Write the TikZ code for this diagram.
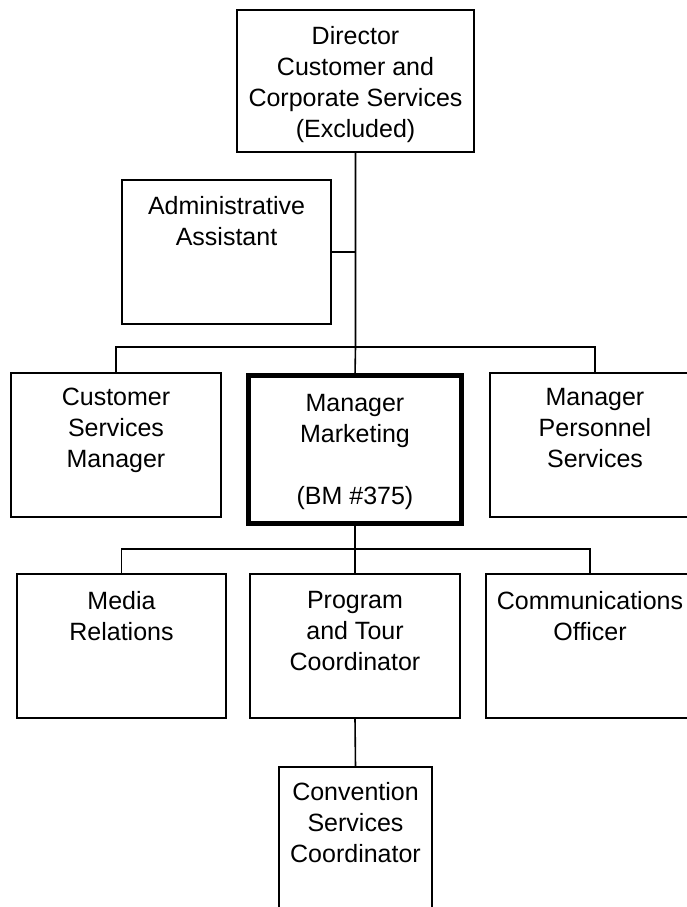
\documentclass[tikz,border=0pt]{standalone}
\usepackage{fontspec}
\setmainfont{Liberation Sans}
\tikzset{
  post/.style = {draw, line width=1.6pt, inner sep=0pt, outer sep=0pt,
    font=\fontsize{25}{31}\selectfont},
  head/.style = {post, line width=5.5pt},
  link/.style = {line width=1.6pt}
}
% box of fixed size, text at the top
\newcommand{\postbox}[4][15]{\parbox[t][#3pt][t]{#2pt}{\centering\vspace*{#1pt}#4}}

\begin{document}
\begin{tikzpicture}[x=1pt,y=-1pt]
  \useasboundingbox (0,0) rectangle (686,907);
  \node[post] (dir) at (355.5,81) {\postbox[16]{237}{142}{Director\\Customer and\\Corporate Services\\(Excluded)}};
  \node[post] (admin) at (226.5,252) {\postbox[16]{209}{144}{Administrative\\Assistant}};
  \node[post] (csm) at (116,445) {\postbox{210}{144}{Customer\\Services\\Manager}};
  \node[head] (mkt) at (355,449.5) {\postbox[19]{213}{148}{Manager\\Marketing\\~\\(BM \#375)}};
  \node[post] (mps) at (595,445) {\postbox{210}{144}{Manager\\Personnel\\Services}};
  \node[post] (media) at (121.5,646) {\postbox[17]{209}{144}{Media\\Relations}};
  \node[post] (prog) at (355,646) {\postbox[17]{210}{144}{Program\\and Tour\\Coordinator}};
  \node[post] (comm) at (590,646) {\postbox[17]{208}{144}{Communications\\Officer}};
  \node[post] (conv) at (355.5,839) {\postbox{153}{144}{Convention\\Services\\Coordinator}};
  \coordinate (bus1) at (355.5,347);
  \coordinate (bus2) at (355,549);
  \draw[link] (dir.south) -- (bus1) -- (mkt.north);
  \draw[link] (admin.east) -- (admin.east -| dir.south);
  \draw[link] (csm.north) |- (bus1) -| (mps.north);
  \draw[link] (mkt.south) -- (bus2) -- (prog.north);
  \draw[link] (media.north) |- (bus2) -| (comm.north);
  \draw[link] (prog.south) -- (conv.north);
\end{tikzpicture}
\end{document}
